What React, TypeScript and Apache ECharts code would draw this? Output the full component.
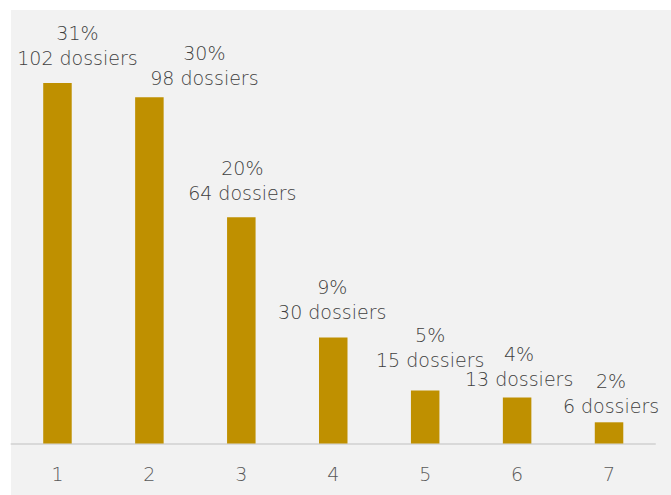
import React, { useEffect, useRef } from "react";
import * as echarts from "echarts";

const categories = ["1", "2", "3", "4", "5", "6", "7"];
const dossiers = [102, 98, 64, 30, 15, 13, 6];
const percents = ["31%", "30%", "20%", "9%", "5%", "4%", "2%"];
// label nudges (style only): horizontal offset and distance above bar
const labelDx = [20, 55, 1, -1, 5, 2, 2];
const labelDist = [13, 7, 12, 13, 18, 6, 4];

export default function App() {
  const ref = useRef<HTMLDivElement>(null);
  useEffect(() => {
    if (!ref.current) return;
    const chart = echarts.init(ref.current, undefined, { renderer: "svg" });
    chart.setOption({
      animation: false,
      grid: { left: 11.5, right: 16, top: 19.5, bottom: 51.5, containLabel: false },
      xAxis: {
        type: "category",
        data: categories,
        axisLine: { lineStyle: { color: "#d9d9d9", width: 2 } },
        axisTick: { show: false },
        axisLabel: {
          color: "#595959",
          fontSize: 19,
          fontFamily: "DejaVu Sans",
          fontWeight: 200,
          margin: 21,
        },
      },
      yAxis: {
        type: "value",
        min: 0,
        max: 120,
        show: false,
        splitLine: { show: false },
      },
      series: [
        {
          type: "bar",
          data: dossiers.map((v, i) => ({
            value: v,
            label: { offset: [labelDx[i], 0], distance: labelDist[i] },
          })),
          barWidth: "31%",
          itemStyle: { color: "#bf9000" },
          label: {
            show: true,
            position: "top",
            color: "#3f3f3f",
            fontSize: 19,
            fontFamily: "DejaVu Sans",
            fontWeight: 200,
            lineHeight: 25,
            formatter: (p: any) => `${percents[p.dataIndex]}\n${p.value} dossiers`,
          },
        },
      ],
    });
    return () => chart.dispose();
  }, []);
  return (
    <div style={{ position: "absolute", left: 0, top: 0, width: 671, height: 495 }}>
      <div
        style={{
          position: "absolute",
          left: 11,
          top: 10,
          right: 0,
          bottom: 0,
          background: "#f2f2f2",
        }}
      />
      <div ref={ref} style={{ position: "absolute", left: 0, top: 0, width: 671, height: 495 }} />
    </div>
  );
}
